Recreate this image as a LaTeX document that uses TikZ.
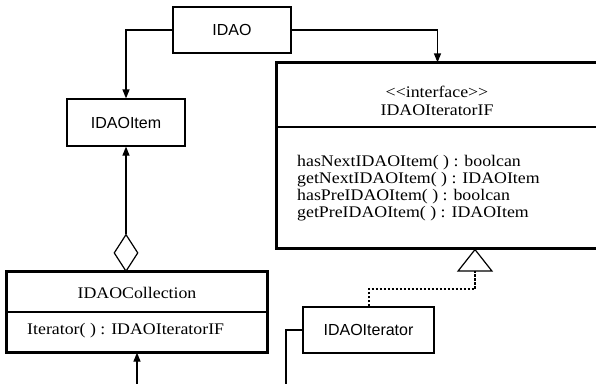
\documentclass[tikz,border=0pt]{standalone}
\usepackage{fontspec}
\newfontfamily\umlserif[FakeStretch=1.1]{Liberation Serif}
\newfontfamily\umlsans{Liberation Sans}
\usetikzlibrary{shapes.geometric,arrows.meta}
\tikzset{
  plainbox/.style={draw, line width=1.2pt, inner sep=0pt, font=\umlsans\fontsize{16}{18}\selectfont},
  classpart/.style={draw, line width=1.2pt, inner sep=0pt},
  classframe/.style={line width=3.5pt},
  umltext/.style={inner sep=0pt, font=\umlserif\fontsize{16.2}{17}\selectfont},
  conn/.style={line width=1.2pt, -{Triangle[length=9pt,width=7pt]}},
  realize/.style={line width=2pt, dash pattern=on 2.5pt off 1.5pt, -{Triangle[open,length=23pt,width=36pt,line width=1.2pt,sep=0pt]}}
}

\begin{document}
\begin{tikzpicture}[x=1pt,y=-1pt]
            \useasboundingbox (0,0) rectangle (596,383);
            % 
            \node[plainbox, minimum width=118pt, minimum height=46pt] (idao) at (232,30) {IDAO};
            \node[plainbox, minimum width=118pt, minimum height=47pt] (item) at (126,122.5) {IDAOItem};
            \node[plainbox, minimum width=131pt, minimum height=46pt] (iter) at (368.5,330) {IDAOIterator};
            
            % interface box
            \node[classpart, minimum width=321pt, minimum height=64pt] (ifhead) at (437.5,95) {};
            \node[classpart, minimum width=321pt, minimum height=121pt] (ifbody) at (437.5,187.5) {};
            \draw[classframe] (ifhead.north west) rectangle (ifbody.south east);
            \node[umltext, align=center] (ifname) at (437,100.5) {<{}<interface>{}>\\[1pt]IDAOIteratorIF};
            \node[umltext, align=left, anchor=west] (ifops) at (297,188.5) {hasNextIDAOItem( ) : boolcan\\getNextIDAOItem( ) : IDAOItem\\hasPreIDAOItem( ) : boolcan\\getPreIDAOItem( ) : IDAOItem};
            
            % collection box
            \node[classpart, minimum width=260pt, minimum height=40pt] (collhead) at (137,292) {};
            \node[classpart, minimum width=260pt, minimum height=40pt] (collbody) at (137,332) {};
            \draw[classframe] (collhead.north west) rectangle (collbody.south east);
            \node[umltext] (collname) at (137,293) {IDAOCollection};
            \node[umltext, anchor=west] (collops) at (27,331) {Iterator( ) : IDAOIteratorIF};
            \node[draw, diamond, line width=1.2pt, inner sep=0pt, minimum width=24pt, minimum height=37pt, anchor=south] (agg) at (126,272) {};
            
            % free ends
            \coordinate (collin) at (137,390);
            \coordinate (iterout) at (286,390);
            
            % connectors
            \draw[conn] (idao.west) -| (item.north);
            \draw[conn] (idao.east) -| (ifhead.north);
            \draw[conn] (agg.north) -- (item.south);
            \draw[conn] (collin) -- (collbody.south);
            \draw[line width=1.2pt] (iter.west) -| (iterout);
            \draw[realize] (iter.north) -- ++(0,-17) -| ([xshift=37.5pt]ifbody.south);
\end{tikzpicture}
\end{document}
